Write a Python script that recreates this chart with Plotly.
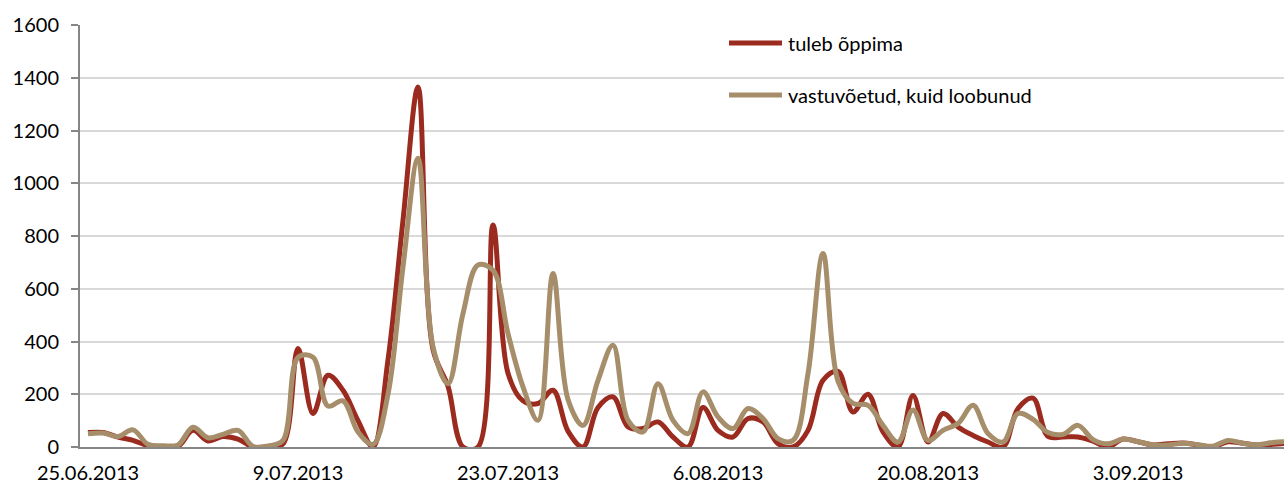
import pandas as pd
import plotly.graph_objects as go

# Daily counts, 25.06.2013 onwards
start_date = "2013-06-25"

tuleb_oppima = [
    55, 55, 38, 25, 5, 0, 2, 63, 23, 40,
    30, 0, 0, 12, 373, 127, 272, 215, 100, 0,
    330, 860, 1365, 370, 230, 0, 0, 842, 280, 175,
    165, 215, 60, 0, 150, 190, 76, 70, 95, 38,
    0, 150, 63, 38, 108, 95, 13, 0, 63, 253,
    287, 133, 200, 57, 0, 195, 19, 127, 76, 44,
    19, 0, 146, 185, 40, 38, 38, 22, 0, 30,
    20, 8, 12, 15, 8, 0, 20, 14, 8, 10,
    15,
]

loobunud = [
    50, 53, 40, 65, 10, 5, 8, 75, 35, 48,
    63, 2, 4, 25, 340, 340, 155, 175, 57, 10,
    200, 683, 1095, 380, 240, 506, 690, 670, 430, 228,
    101, 658, 180, 82, 253, 386, 101, 57, 240, 101,
    51, 209, 114, 70, 146, 108, 32, 25, 278, 734,
    250, 165, 158, 82, 19, 140, 25, 63, 89, 158,
    51, 19, 127, 105, 55, 48, 82, 28, 12, 30,
    20, 8, 8, 14, 9, 3, 25, 14, 9, 17,
    20,
]

series_names = ["tuleb õppima", "vastuvõetud, kuid loobunud"]
series_colors = ["#9C2B1F", "#A68E6B"]

tick_dates = ["2013-06-25", "2013-07-09", "2013-07-23", "2013-08-06", "2013-08-20", "2013-09-03"]
tick_labels = ["25.06.2013", "9.07.2013", "23.07.2013", "6.08.2013", "20.08.2013", "3.09.2013"]
y_ticks = [0, 200, 400, 600, 800, 1000, 1200, 1400, 1600]

dates = pd.date_range(start_date, periods=len(tuleb_oppima), freq="D")

fig = go.Figure()
for name, vals, col in zip(series_names, [tuleb_oppima, loobunud], series_colors):
    fig.add_trace(go.Scatter(
        x=dates, y=vals, name=name, mode="lines",
        line=dict(color=col, width=5, shape="spline", smoothing=1.0),
        showlegend=False,
    ))

FONT = dict(family="Lato, 'Open Sans', sans-serif", size=20, color="#000000")

# Plot area: left 80px, right 1284px, top 25px, bottom 447px
L, R, T, B = 80, 1284, 25, 447
W, H = 1284, 486

def px_x(x):
    return (x - L) / (R - L)

def px_y(y):
    return (B - y) / (B - T)

# Legend drawn as line samples with labels
shapes = []
annotations = []
for i, (name, col) in enumerate(zip(series_names, series_colors)):
    yy = 43 + i * 52
    shapes.append(dict(type="line", xref="paper", yref="paper",
                       x0=px_x(729), x1=px_x(782), y0=px_y(yy), y1=px_y(yy),
                       line=dict(color=col, width=5), layer="above"))
    annotations.append(dict(text=name, xref="paper", yref="paper",
                            x=px_x(786), y=px_y(yy), xanchor="left", yanchor="middle",
                            showarrow=False, font=FONT))

fig.update_layout(
    width=W, height=H,
    margin=dict(l=L, r=W - R, t=T, b=H - B, pad=0),
    paper_bgcolor="white", plot_bgcolor="white",
    font=FONT,
    shapes=shapes, annotations=annotations,
    showlegend=False,
)

fig.update_xaxes(
    type="date", automargin=False,
    range=["2013-06-24 11:12", "2013-09-12 17:36"],
    tickmode="array", tickvals=tick_dates, ticktext=tick_labels,
    showgrid=False, showline=True, linecolor="#868686", linewidth=2,
    ticks="", ticklabelstandoff=7, tickfont=FONT, zeroline=False,
)
fig.update_yaxes(
    range=[0, 1600], tickmode="array", tickvals=y_ticks, automargin=False,
    showgrid=True, gridcolor="#D9D9D9", gridwidth=2,
    showline=True, linecolor="#868686", linewidth=2,
    ticks="outside", ticklen=7, tickcolor="#868686", tickwidth=2,
    ticklabelstandoff=8, tickfont=FONT, zeroline=False,
)

fig.write_html("out.html")
